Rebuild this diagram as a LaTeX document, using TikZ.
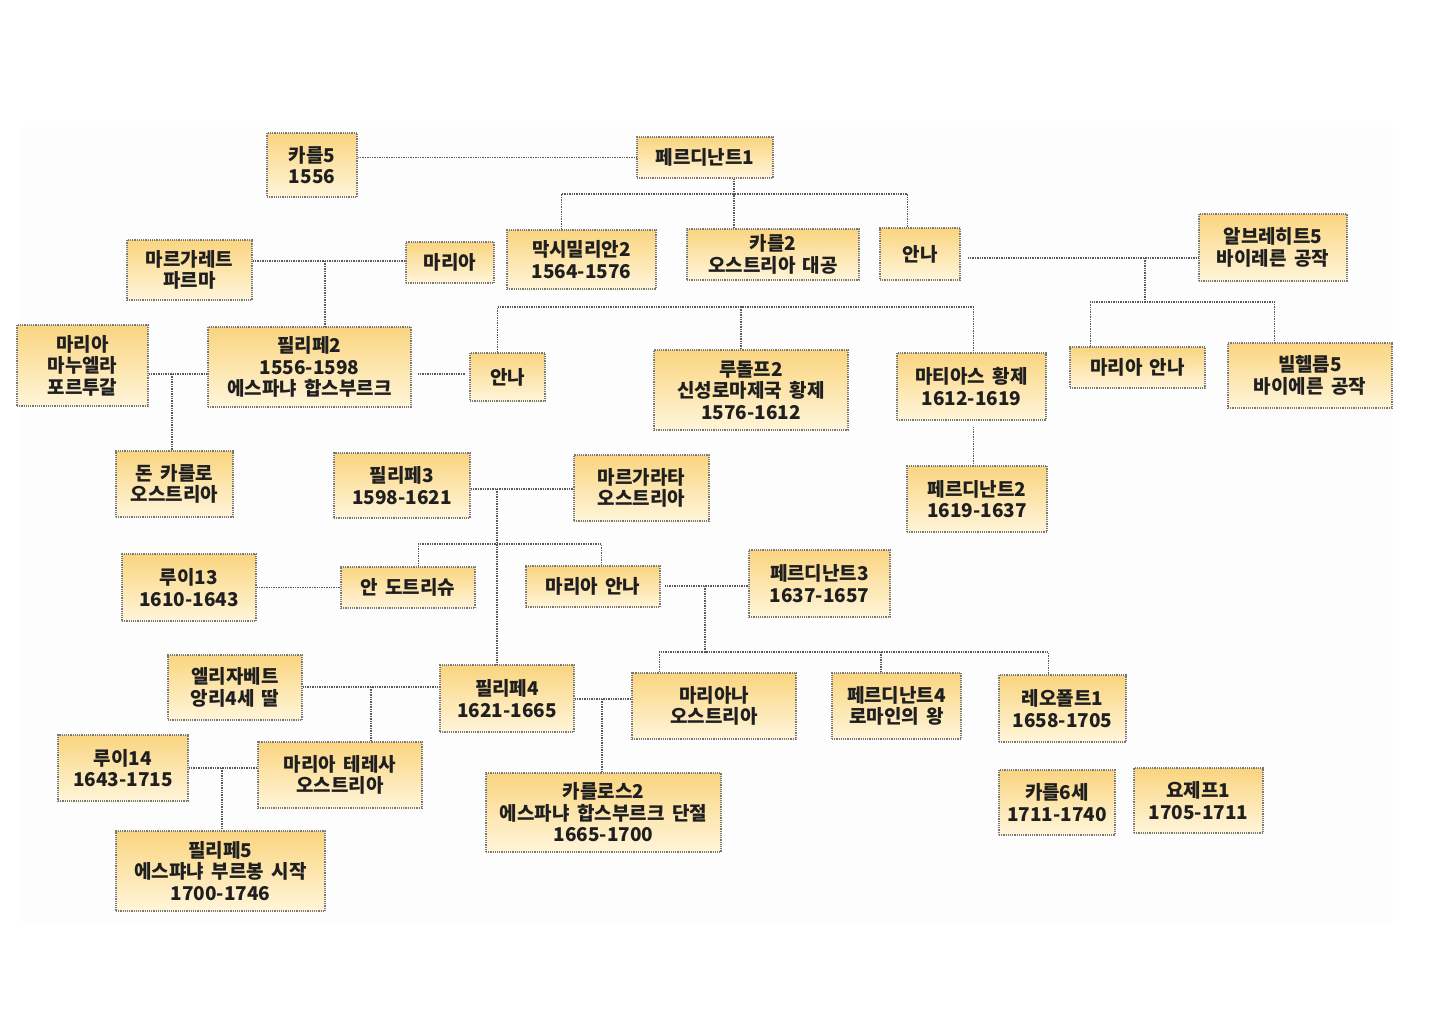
\documentclass[tikz,border=0pt]{standalone}
\usepackage{fontspec}
\newfontfamily\kr{Noto Sans CJK KR}[WordSpace=1.7]
\definecolor{boxtop}{RGB}{250,213,128}
\definecolor{boxbot}{RGB}{255,245,218}
\definecolor{rim}{RGB}{120,120,120}
\tikzset{
    person/.style 2 args={draw=rim, densely dotted, line width=1.2pt, top color=boxtop, bottom color=boxbot,
        minimum width=#1pt, minimum height=#2pt, inner sep=0pt, align=center, text=black!88,
        font=\kr\bfseries\fontsize{19}{21.5}\selectfont},
    link/.style={draw=black!65, densely dotted, line width=1.4pt}
}

\begin{document}
\begin{tikzpicture}[x=1pt, y=-1pt]
    \useasboundingbox (0,0) rectangle (1440,1018);
    \fill[black!0.6] (20,127) rectangle (1393,923);

    \node[person={90}{64}] (karl5) at (312,165) {카를5\\1556};
    \node[person={136}{41}] (ferd1) at (705,157.5) {페르디난트1};
    \node[person={149}{59}] (maxi2) at (581.5,259.5) {막시밀리안2\\1564-1576};
    \node[person={172}{51}] (karl2) at (773,254.5) {카를2\\오스트리아 대공};
    \node[person={80}{52}] (annaA) at (920,254) {안나};
    \node[person={148}{67}] (albr5) at (1273,247.5) {알브레히트5\\바이레른 공작};
    \node[person={125}{60}] (marga) at (189.5,270) {마르가레트\\파르마};
    \node[person={88}{41}] (mariaA) at (450,262.5) {마리아};
    \node[person={131}{81}] (manuela) at (82.5,365.5) {마리아\\마누엘라\\포르투갈};
    \node[person={203}{80}] (phil2) at (309.5,367) {필리페2\\1556-1598\\에스파냐 합스부르크};
    \node[person={75}{48}] (annaB) at (507.5,377) {안나};
    \node[person={194}{80}] (rudolf2) at (751,390) {루돌프2\\신성로마제국 황제\\1576-1612};
    \node[person={149}{67}] (matth) at (971.5,386.5) {마티아스 황제\\1612-1619};
    \node[person={135}{41}] (mannaA) at (1137.5,367.5) {마리아 안나};
    \node[person={164}{65}] (wilh5) at (1310,375.5) {빌헬름5\\바이에른 공작};
    \node[person={117}{66}] (carlo) at (174.5,484) {돈 카를로\\오스트리아};
    \node[person={136}{65}] (phil3) at (402,485.5) {필리페3\\1598-1621};
    \node[person={135}{66}] (margarita) at (641.5,488) {마르가라타\\오스트리아};
    \node[person={140}{66}] (ferd2) at (977,499) {페르디난트2\\1619-1637};
    \node[person={134}{67}] (louis13) at (189,587.5) {루이13\\1610-1643};
    \node[person={134}{41}] (anne) at (408,587.5) {안 도트리슈};
    \node[person={134}{41}] (mannaB) at (593,586.5) {마리아 안나};
    \node[person={141}{67}] (ferd3) at (819.5,583.5) {페르디난트3\\1637-1657};
    \node[person={134}{65}] (elisa) at (235,687.5) {엘리자베트\\앙리4세 딸};
    \node[person={134}{67}] (phil4) at (507,698.5) {필리페4\\1621-1665};
    \node[person={164}{66}] (mariana) at (714,706) {마리아나\\오스트리아};
    \node[person={129}{66}] (ferd4) at (896.5,706) {페르디난트4\\로마인의 왕};
    \node[person={127}{67}] (leop1) at (1062.5,708.5) {레오폴트1\\1658-1705};
    \node[person={130}{66}] (louis14) at (123,768) {루이14\\1643-1715};
    \node[person={164}{66}] (theresa) at (340,775) {마리아 테레사\\오스트리아};
    \node[person={235}{79}] (carlos2) at (603.5,812.5) {카를로스2\\에스파냐 합스부르크 단절\\1665-1700};
    \node[person={209}{80}] (phil5) at (220.5,871) {필리페5\\에스퍄냐 부르봉 시작\\1700-1746};
    \node[person={116}{65}] (karl6) at (1057,802.5) {카를6세\\1711-1740};
    \node[person={129}{65}] (josef1) at (1198.5,800.5) {요제프1\\1705-1711};

    \coordinate (j1) at (734,194);
    \coordinate (j2) at (1145,258);
    \coordinate (j3) at (1145,302);
    \coordinate (j4) at (325,261);
    \coordinate (j5) at (172,374);
    \coordinate (j6) at (741,307);
    \coordinate (j7) at (497,489);
    \coordinate (j8) at (497,544);
    \coordinate (j9) at (705,586);
    \coordinate (j10) at (705,652);
    \coordinate (j11) at (881,652);
    \coordinate (j12) at (371,687);
    \coordinate (j13) at (602,699);
    \coordinate (j14) at (222,768);

    \draw[link] (karl5.east |- ferd1.west) -- (ferd1.west);
    \draw[link] (ferd1.south -| j1) -- (j1) -- (karl2.north -| j1);
    \draw[link] ([xshift=55pt]maxi2.north west) |- (j1) -| ([xshift=28pt]annaA.north west);
    \draw[link] ([xshift=7pt]annaA.east |- j2) -- (albr5.west |- j2);
    \draw[link] (j2) -- (j3);
    \draw[link] ([xshift=21pt]mannaA.north west) |- (j3) -| ([xshift=47pt]wilh5.north west);
    \draw[link] (marga.east |- j4) -- (mariaA.west |- j4);
    \draw[link] (j4) -- (phil2.north -| j4);
    \draw[link] (manuela.east |- j5) -- (phil2.west |- j5);
    \draw[link] (j5) -- (carlo.north -| j5);
    \draw[link] ([xshift=6pt]phil2.east |- j5) -- ([xshift=-4pt]annaB.west |- j5);
    \draw[link] ([xshift=28pt]annaB.north west) |- (j6) -| ([xshift=2pt]matth.north);
    \draw[link] (j6) -- (rudolf2.north -| j6);
    \draw[link] ([xshift=2pt,yshift=-6pt]matth.south) -- ([xshift=2pt]matth.south |- ferd2.north);
    \draw[link] (phil3.east |- j7) -- (margarita.west |- j7);
    \draw[link] (j7) -- (phil4.north -| j7);
    \draw[link] ([xshift=78pt]anne.north west) |- (j8) -| ([xshift=76pt]mannaB.north west);
    \draw[link] (louis13.east |- anne.west) -- (anne.west);
    \draw[link] ([xshift=4pt]mannaB.east |- j9) -- (ferd3.west |- j9);
    \draw[link] (j9) -- (j10);
    \draw[link] ([xshift=28pt]mariana.north west) |- (j10) -| ([xshift=50pt]leop1.north west);
    \draw[link] (j11) -- (ferd4.north -| j11);
    \draw[link] (elisa.east |- j12) -- (phil4.west |- j12);
    \draw[link] (j12) -- (theresa.north -| j12);
    \draw[link] (phil4.east |- j13) -- (mariana.west |- j13);
    \draw[link] (j13) -- (carlos2.north -| j13);
    \draw[link] (louis14.east |- j14) -- (theresa.west |- j14);
    \draw[link] (j14) -- (phil5.north -| j14);
\end{tikzpicture}
\end{document}
